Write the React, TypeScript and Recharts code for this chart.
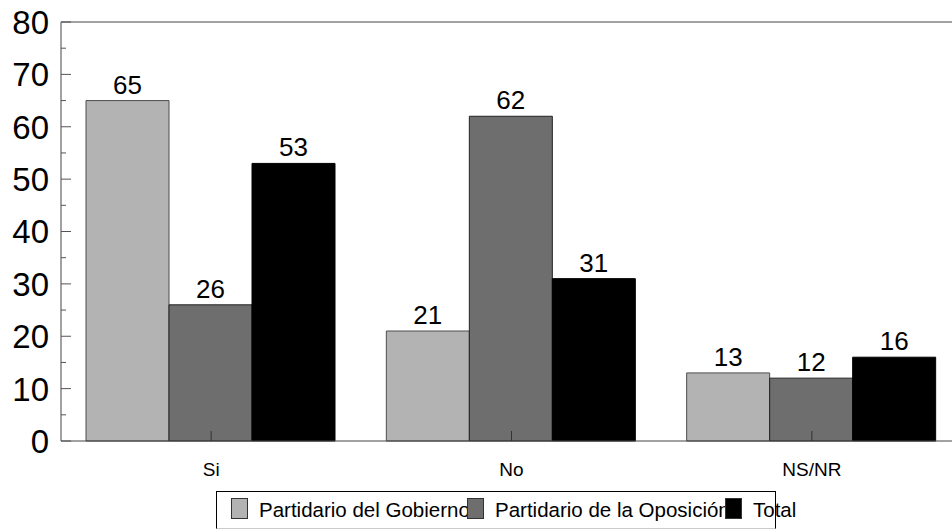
import React from 'react';
import {
    BarChart,
    Bar,
    XAxis,
    YAxis,
    ReferenceLine,
    LabelList
} from 'recharts';

// Respuestas por categoria
const categories = ['Si', 'No', 'NS/NR'];
const gobierno = [65, 21, 13];
const oposicion = [26, 62, 12];
const total = [53, 31, 16];
const yTicks = [0, 5, 10, 15, 20, 25, 30, 35, 40, 45, 50, 55, 60, 65, 70, 75, 80];

const SERIES = [
    { key: 'gobierno', name: 'Partidario del Gobierno', fill: '#b3b3b3', stroke: '#4d4d4d' },
    { key: 'oposicion', name: 'Partidario de la Oposición', fill: '#6e6e6e', stroke: '#222222' },
    { key: 'total', name: 'Total', fill: '#000000', stroke: '#000000' },
];

const data = categories.map((c, i) => ({
    name: c,
    gobierno: gobierno[i],
    oposicion: oposicion[i],
    total: total[i],
}));

const PLOT_LEFT = 61;
const PLOT_BOTTOM = 441;
const FONT = 'Liberation Sans, Arial, sans-serif';

const YTick = ({ y, payload }: any) => {
    const major = payload.value % 10 === 0;
    return (
        <g>
            <line x1={PLOT_LEFT} x2={PLOT_LEFT + (major ? 10 : 5)} y1={y} y2={y} stroke="#555" />
            {major && (
                <text x={49} y={y} dy="0.36em" textAnchor="end" fontSize={33} fontFamily={FONT} fill="#000">
                    {payload.value}
                </text>
            )}
        </g>
    );
};

const XTick = ({ x, payload }: any) => (
    <g>
        <line x1={x} x2={x} y1={PLOT_BOTTOM} y2={PLOT_BOTTOM - 10} stroke="#333" />
        <text x={x} y={469} dy="0.36em" textAnchor="middle" fontSize={19} fontFamily={FONT} fill="#000">
            {payload.value}
        </text>
    </g>
);

// legend swatch positions taken from the reference layout
const LEGEND_X = [231, 467, 725];

export default function App() {
    return (
        <div style={{ position: 'relative', width: 952, height: 529, background: '#fff', overflow: 'hidden' }}>
            <style>{'body{margin:0}'}</style>
            {/* the plot area runs a little past the right edge in the original */}
            <BarChart
                width={962}
                height={529}
                data={data}
                margin={{ top: 22, right: 0, left: 0, bottom: 0 }}
                barCategoryGap={25}
                barGap={0}
            >
                <XAxis
                    dataKey="name"
                    height={88}
                    axisLine={{ stroke: '#444' }}
                    tickLine={false}
                    tick={<XTick />}
                    interval={0}
                />
                <YAxis
                    width={61}
                    domain={[0, 80]}
                    ticks={yTicks}
                    interval={0}
                    axisLine={{ stroke: '#444' }}
                    tickLine={false}
                    tick={<YTick />}
                />
                <ReferenceLine y={80} stroke="#444" />
                {SERIES.map((s) => (
                    <Bar
                        key={s.key}
                        dataKey={s.key}
                        fill={s.fill}
                        stroke={s.stroke}
                        strokeWidth={1}
                        isAnimationActive={false}
                    >
                        <LabelList
                            dataKey={s.key}
                            position="top"
                            offset={7}
                            fontSize={26}
                            fontFamily={FONT}
                            fill="#000"
                        />
                    </Bar>
                ))}
            </BarChart>
            <div
                style={{
                    position: 'absolute',
                    left: 216,
                    top: 491,
                    width: 558,
                    height: 36,
                    borderTop: '1px solid #000',
                    borderLeft: '1px solid #000',
                    borderRight: '1px solid #000',
                    borderBottom: '1px solid #ccc',
                }}
            />
            {SERIES.map((s, i) => (
                <React.Fragment key={s.key}>
                    <div
                        style={{
                            position: 'absolute',
                            left: LEGEND_X[i],
                            top: 498,
                            width: 15,
                            height: 19,
                            background: s.fill,
                            border: '1px solid #333',
                            boxSizing: 'content-box',
                        }}
                    />
                    <div
                        style={{
                            position: 'absolute',
                            left: LEGEND_X[i] + 28,
                            top: 498,
                            fontSize: 20.5,
                            lineHeight: '24px',
                            fontFamily: FONT,
                            whiteSpace: 'nowrap',
                            color: '#000',
                        }}
                    >
                        {s.name}
                    </div>
                </React.Fragment>
            ))}
        </div>
    );
}
